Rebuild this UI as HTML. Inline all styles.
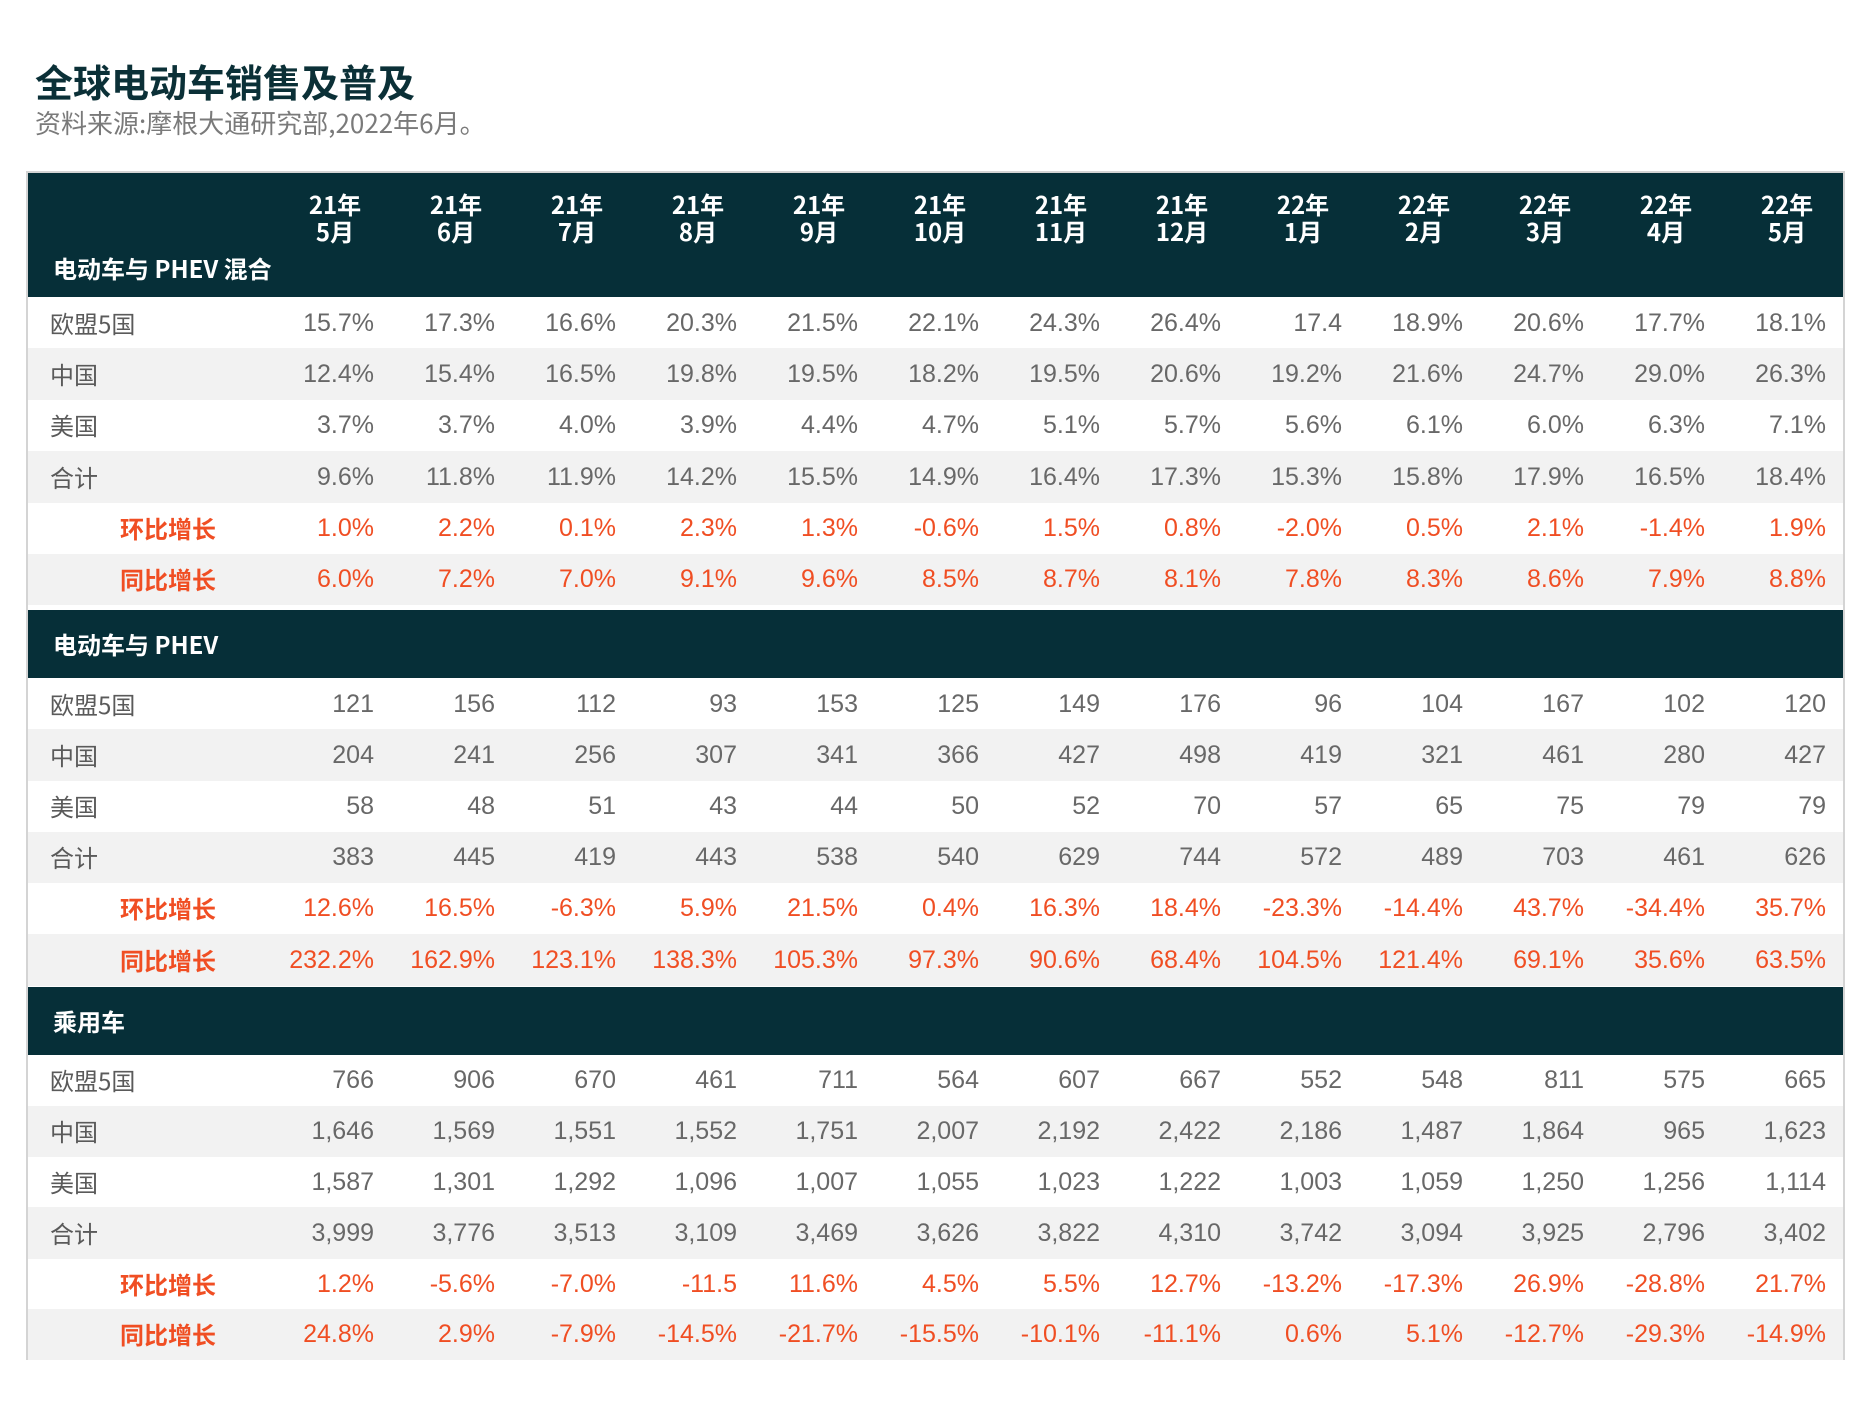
<!DOCTYPE html>
<html><head><meta charset="utf-8">
<style>
body{margin:0;width:1875px;height:1428px;background:#fff;position:relative;overflow:hidden;font-family:"Liberation Sans","Noto Sans CJK SC",sans-serif;}
.abs{position:absolute;}
#title{left:35px;top:53px;font-size:38px;font-weight:bold;color:#0b3037;font-family:"Noto Sans CJK SC","Liberation Sans",sans-serif;white-space:nowrap;}
#sub{left:35px;top:104px;font-size:26px;color:#7a7a7a;font-family:"Noto Sans CJK SC","Liberation Sans",sans-serif;white-space:nowrap;}
#table{left:26px;top:171px;width:1819px;height:1189px;border:2px solid #d4d4d4;box-sizing:border-box;background:#fff;}
.dark{background:#062f38;}
.gray{background:#f2f2f2;}
.cell{position:absolute;font-size:25px;white-space:nowrap;font-family:"Noto Sans CJK SC","Liberation Sans",sans-serif;}
</style></head>
<body>
<div id="title" class="abs">全球电动车销售及普及</div>
<div id="sub" class="abs">资料来源:摩根大通研究部,2022年6月。</div>
<div id="table" class="abs"></div>
<script>
const months = ["21年|5月","21年|6月","21年|7月","21年|8月","21年|9月","21年|10月","21年|11月","21年|12月","22年|1月","22年|2月","22年|3月","22年|4月","22年|5月"];
const sectionTitles = ["电动车与 PHEV 混合","电动车与 PHEV","乘用车"];
const rowLabels = ["欧盟5国","中国","美国","合计","环比增长","同比增长"];
const s1eu = ["15.7%","17.3%","16.6%","20.3%","21.5%","22.1%","24.3%","26.4%","17.4","18.9%","20.6%","17.7%","18.1%"];
const s1cn = ["12.4%","15.4%","16.5%","19.8%","19.5%","18.2%","19.5%","20.6%","19.2%","21.6%","24.7%","29.0%","26.3%"];
const s1us = ["3.7%","3.7%","4.0%","3.9%","4.4%","4.7%","5.1%","5.7%","5.6%","6.1%","6.0%","6.3%","7.1%"];
const s1tot = ["9.6%","11.8%","11.9%","14.2%","15.5%","14.9%","16.4%","17.3%","15.3%","15.8%","17.9%","16.5%","18.4%"];
const s1mom = ["1.0%","2.2%","0.1%","2.3%","1.3%","-0.6%","1.5%","0.8%","-2.0%","0.5%","2.1%","-1.4%","1.9%"];
const s1yoy = ["6.0%","7.2%","7.0%","9.1%","9.6%","8.5%","8.7%","8.1%","7.8%","8.3%","8.6%","7.9%","8.8%"];
const s2eu = ["121","156","112","93","153","125","149","176","96","104","167","102","120"];
const s2cn = ["204","241","256","307","341","366","427","498","419","321","461","280","427"];
const s2us = ["58","48","51","43","44","50","52","70","57","65","75","79","79"];
const s2tot = ["383","445","419","443","538","540","629","744","572","489","703","461","626"];
const s2mom = ["12.6%","16.5%","-6.3%","5.9%","21.5%","0.4%","16.3%","18.4%","-23.3%","-14.4%","43.7%","-34.4%","35.7%"];
const s2yoy = ["232.2%","162.9%","123.1%","138.3%","105.3%","97.3%","90.6%","68.4%","104.5%","121.4%","69.1%","35.6%","63.5%"];
const s3eu = ["766","906","670","461","711","564","607","667","552","548","811","575","665"];
const s3cn = ["1,646","1,569","1,551","1,552","1,751","2,007","2,192","2,422","2,186","1,487","1,864","965","1,623"];
const s3us = ["1,587","1,301","1,292","1,096","1,007","1,055","1,023","1,222","1,003","1,059","1,250","1,256","1,114"];
const s3tot = ["3,999","3,776","3,513","3,109","3,469","3,626","3,822","4,310","3,742","3,094","3,925","2,796","3,402"];
const s3mom = ["1.2%","-5.6%","-7.0%","-11.5","11.6%","4.5%","5.5%","12.7%","-13.2%","-17.3%","26.9%","-28.8%","21.7%"];
const s3yoy = ["24.8%","2.9%","-7.9%","-14.5%","-21.7%","-15.5%","-10.1%","-11.1%","0.6%","5.1%","-12.7%","-29.3%","-14.9%"];
const sections = [[s1eu,s1cn,s1us,s1tot,s1mom,s1yoy],[s2eu,s2cn,s2us,s2tot,s2mom,s2yoy],[s3eu,s3cn,s3us,s3tot,s3mom,s3yoy]];

const T = document.getElementById('table');
const OX = 28, OY = 173; // table content origin offset (border)
function colRight(i){ return 374 + i*121; }
function add(parent, cls, x, y, w, h){
  const d = document.createElement('div');
  d.className = cls; d.style.position='absolute';
  d.style.left=(x-OX)+'px'; d.style.top=(y-OY)+'px';
  if(w!=null) d.style.width=w+'px';
  if(h!=null) d.style.height=h+'px';
  parent.appendChild(d); return d;
}
const secHeads = [[171,297],[610,678],[987,1055]];
const secRows = [[297,51.3],[678,51.2],[1055,50.8]];
sections.forEach((rows, s)=>{
  const [hy0,hy1] = secHeads[s];
  const hb = add(T,'dark',OX,hy0<OY?OY:hy0,1815,hy1-(hy0<OY?OY:hy0));
  
  
  const lt = add(T,'cell',53,(s===0?hy1-47:(hy0+hy1)/2-18));
  
  
  lt.style.color='#fff'; lt.style.fontSize='24px'; lt.style.fontWeight='bold';
  lt.textContent = sectionTitles[s];
  if(s===0){
    months.forEach((m,i)=>{
      const parts = m.split('|');
      const c = add(T,'cell',colRight(i)-79,190,80);
      
      
      c.style.textAlign='center'; c.style.color='#fff'; c.style.fontWeight='bold'; c.style.lineHeight='27px'; c.style.fontSize='24px';
      c.innerHTML = parts[0]+'<br>'+parts[1];
    });
  }
  const [ry0, rh] = secRows[s];
  rows.forEach((vals, r)=>{
    const top = ry0 + r*rh;
    const bg = add(T, r%2===1?'gray':'', OX, top, 1815, rh+0.5);
    
    
    const orange = r>=4;
    const lab = add(T,'cell', orange?120:50, top+rh/2-18);
    
    
    lab.style.color = orange?'#f04e23':'#5a5a5a';
    lab.style.fontSize='24px';
    if(orange) lab.style.fontWeight='bold';
    lab.textContent = rowLabels[r];
    vals.forEach((v,i)=>{
      const c = add(T,'cell', colRight(i)-140, top+rh/2-18, 140);
      
      
      c.style.textAlign='right';
      c.style.color = orange?'#f04e23':'#686868';
      c.style.fontFamily='"Liberation Sans",sans-serif';
      c.style.lineHeight='36px';
      c.textContent = v;
    });
  });
});
</script>
</body></html>
